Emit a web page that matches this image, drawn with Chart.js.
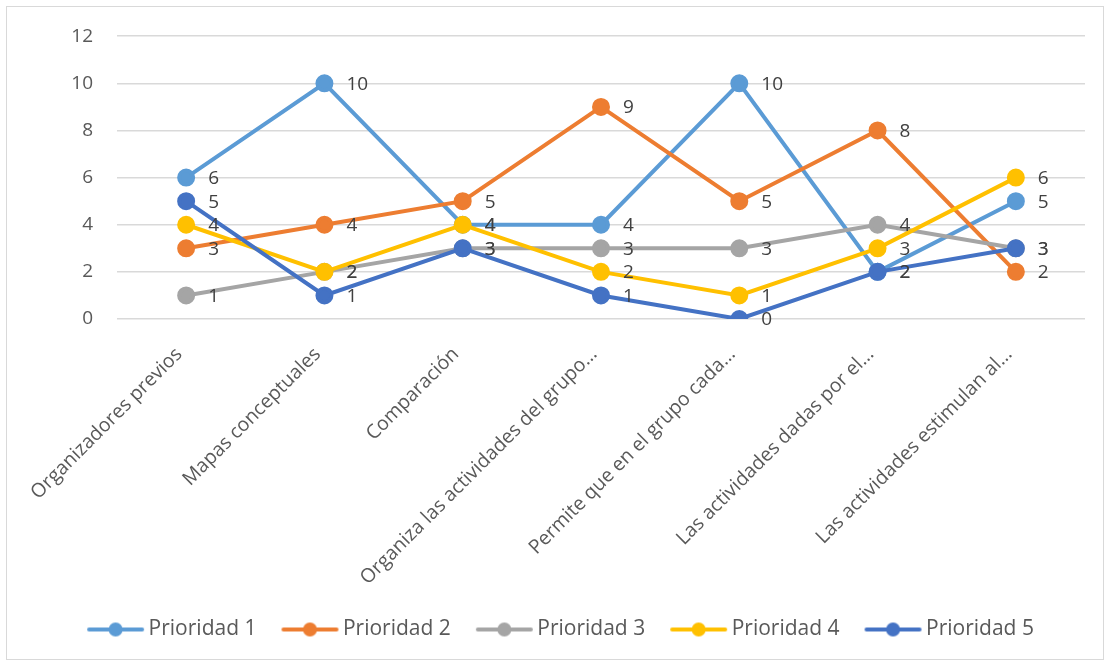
<!DOCTYPE html>
<html>
<head>
<meta charset="utf-8">
<script src="https://cdn.jsdelivr.net/npm/chart.js@4.4.1/dist/chart.umd.min.js"></script>
<style>
  html, body { margin: 0; padding: 0; background: #fff; }
  #box { position: absolute; left: 6px; top: 6px; width: 1096px; height: 652px; border: 1px solid #D9D9D9; }
  canvas { display: block; }
</style>
</head>
<body>
<div id="box"><canvas id="c" width="1096" height="652"></canvas></div>
<script>
var categories = [
    'Organizadores previos',
    'Mapas conceptuales',
    'Comparación',
    'Organiza las actividades del grupo…',
    'Permite que en el grupo cada…',
    'Las actividades dadas por el…',
    'Las actividades estimulan al…'
];
var seriesNames = ['Prioridad 1', 'Prioridad 2', 'Prioridad 3', 'Prioridad 4', 'Prioridad 5'];
var prioridad1 = [6, 10, 4, 4, 10, 2, 5];
var prioridad2 = [3, 4, 5, 9, 5, 8, 2];
var prioridad3 = [1, 2, 3, 3, 3, 4, 3];
var prioridad4 = [4, 2, 4, 2, 1, 3, 6];
var prioridad5 = [5, 1, 3, 1, 0, 2, 3];
var yTicks = [0, 2, 4, 6, 8, 10, 12];

var colors = ['#5B9BD5', '#ED7D31', '#A5A5A5', '#FFC000', '#4472C4'];
var allData = [prioridad1, prioridad2, prioridad3, prioridad4, prioridad5];

var FONT = '"Open Sans", sans-serif';
var MARK_W = 50;   // legend box width
var MARK_EXT = 7;  // how far the marker image spills past the box

// little line + dot marker for the legend
function legendMarker(color) {
    var c = document.createElement('canvas');
    c.width = MARK_W + 2 * MARK_EXT; c.height = 16;
    var g = c.getContext('2d');
    var x0 = MARK_EXT + 1, x1 = MARK_W + 2 * MARK_EXT - 3;
    g.strokeStyle = color;
    g.lineWidth = 4;
    g.lineCap = 'round';
    g.beginPath(); g.moveTo(x0, 8); g.lineTo(x1, 8); g.stroke();
    g.fillStyle = color;
    g.beginPath(); g.arc((x0 + x1) / 2, 8, 7, 0, Math.PI * 2); g.fill();
    return c;
}
var markers = colors.map(legendMarker);

var datasets = allData.map(function (d, i) {
    return {
        label: seriesNames[i],
        data: d,
        borderColor: colors[i],
        backgroundColor: colors[i],
        pointBackgroundColor: colors[i],
        pointBorderColor: colors[i],
        borderWidth: 4,
        pointRadius: 7,
        pointHoverRadius: 7,
        tension: 0,
        order: 5 - i
    };
});

var valueLabels = {
    id: 'valueLabels',
    afterDatasetsDraw: function (chart) {
        var ctx = chart.ctx;
        ctx.save();
        ctx.font = '19px ' + FONT;
        ctx.fillStyle = '#404040';
        ctx.textAlign = 'left';
        ctx.textBaseline = 'middle';
        chart.data.datasets.forEach(function (ds, i) {
            var meta = chart.getDatasetMeta(i);
            meta.data.forEach(function (pt, j) {
                ctx.fillText(String(ds.data[j]), pt.x + 22, pt.y + 1);
            });
        });
        ctx.restore();
    }
};

// nudge the legend row a little to the right, like the original
var legendShift = {
    id: 'legendShift',
    afterLayout: function (chart) {
        chart.legend.left += 10;
        chart.legend.right += 10;
    }
};

var ctx = document.getElementById('c').getContext('2d');
new Chart(ctx, {
    type: 'line',
    data: { labels: categories, datasets: datasets },
    options: {
        responsive: false,
        animation: false,
        layout: { padding: { top: 9, right: 18, left: 10, bottom: 9 } },
        plugins: {
            tooltip: { enabled: false },
            legend: {
                position: 'bottom',
                labels: {
                    usePointStyle: true,
                    pointStyleWidth: MARK_W,
                    color: '#595959',
                    font: { size: 21, family: FONT },
                    padding: 26,
                    generateLabels: function (chart) {
                        return chart.data.datasets.map(function (ds, i) {
                            return {
                                text: ds.label,
                                fillStyle: colors[i],
                                strokeStyle: colors[i],
                                pointStyle: markers[i],
                                datasetIndex: i,
                                hidden: false,
                                fontColor: '#595959'
                            };
                        });
                    }
                }
            }
        },
        scales: {
            x: {
                offset: true,
                grid: { display: false },
                border: { display: false },
                ticks: {
                    minRotation: 45,
                    maxRotation: 45,
                    autoSkip: false,
                    color: '#595959',
                    padding: 9,
                    font: { size: 19.5, family: FONT },
                    callback: function (v, i) { return categories[i] + '\u2002'; }
                },
                afterFit: function (scale) { scale.height = 274; }
            },
            y: {
                min: 0,
                max: 12,
                afterBuildTicks: function (scale) {
                    scale.ticks = yTicks.map(function (v) { return { value: v }; });
                },
                grid: { color: '#D9D9D9', lineWidth: 1.5, drawTicks: false },
                border: { display: false },
                ticks: {
                    color: '#595959',
                    padding: 24,
                    font: { size: 19, family: FONT, lineHeight: 0.55 }
                },
                afterFit: function (scale) { scale.width = 100; }
            }
        }
    },
    plugins: [valueLabels, legendShift]
});
</script>
</body>
</html>
